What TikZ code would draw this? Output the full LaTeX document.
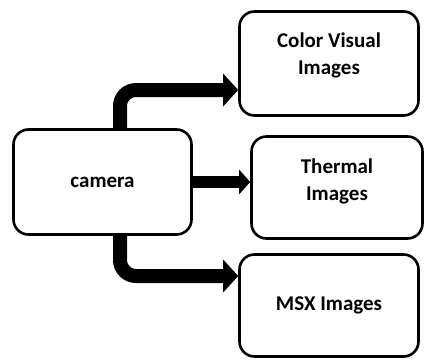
\documentclass[tikz,border=0pt]{standalone}
\usepackage{fontspec}
\setmainfont{Carlito}
\usetikzlibrary{arrows.meta, positioning}
\pgfdeclarelayer{background}
\pgfsetlayers{background,main}
\tikzstyle{fat} = [line width=14pt, rounded corners=16pt, -{Triangle[length=15pt, width=32pt]}]

\begin{document}
\begin{tikzpicture}[
        x=1pt, y=1pt,
        every node/.style={font=\fontsize{21}{27}\selectfont\bfseries},
        box/.style={rectangle, rounded corners=15pt, draw, line width=2.6pt,
            fill=white, text centered},
        txt/.style={align=center}
    ]
    \useasboundingbox (0,0) rectangle (425,360);
    \node (camera)  [box, minimum width=178pt, minimum height=105pt] at (102.5,178) {camera};
    \node (visual)  [box, minimum width=179pt, minimum height=104pt] at (329,296.5) {};
    \node (thermal) [box, minimum width=171pt, minimum height=102pt] at (337,172.5) {};
    \node (msx)     [box, minimum width=179pt, minimum height=102pt] at (329,54.5) {MSX Images};
    \node (visualtxt)  [txt] at ([yshift=8]visual.center)  {Color Visual\\Images};
    \node (thermaltxt) [txt] at ([yshift=6]thermal.center) {Thermal\\Images};

    \begin{pgfonlayer}{background}
    \draw [fat] ([xshift=17.5]camera.north) |- ([yshift=-26.5]visual.west);
    \draw [fat] ([xshift=17.5]camera.south) |- ([yshift=29.5]msx.west);
    \draw [line width=12pt, -{Triangle[length=11pt, width=24pt]}]
        (camera.east) -- (camera.east -| thermal.west);
    \end{pgfonlayer}
\end{tikzpicture}
\end{document}
